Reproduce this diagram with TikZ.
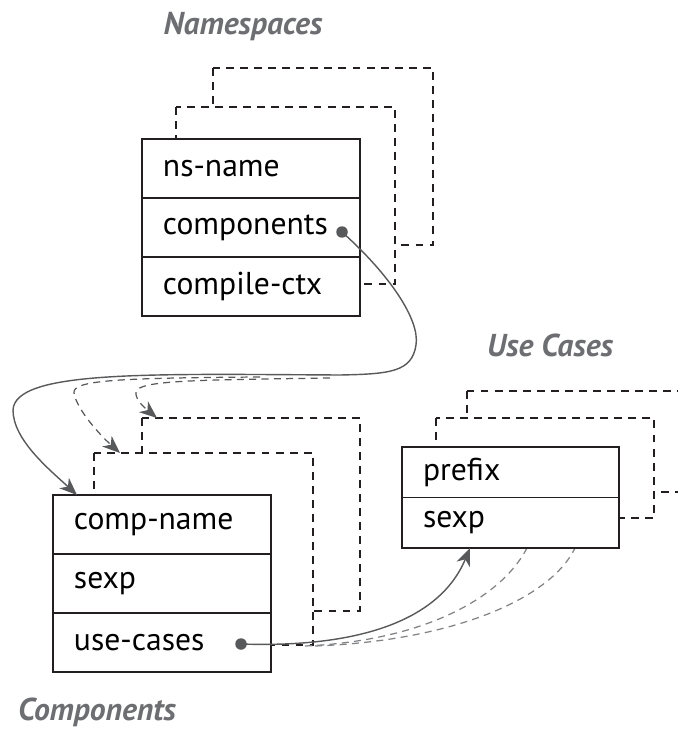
\documentclass[tikz,border=0pt]{standalone}
\usepackage{fontspec}
\setmainfont{PT Sans}
\usepackage{xcolor}
\usepackage{tikz}
\usetikzlibrary{positioning,calc,arrows.meta}

\definecolor{boxline}{HTML}{231F20}
\definecolor{linkgray}{HTML}{58595B}
\definecolor{ghostgray}{HTML}{808285}
\definecolor{titlegray}{HTML}{6D6E71}

\begin{document}
\begin{tikzpicture}[x=0.02cm, y=-0.02cm,
    row/.style={draw=boxline, line width=0.8pt, text width=3.52cm, inner xsep=0.42cm, inner ysep=0pt, outer sep=0pt, minimum height=1.18cm, align=left, anchor=north west, font=\fontsize{18}{20}\selectfont},
    ucrow/.style={row, text width=3.5cm, minimum height=1.01cm},
    ghost/.style={draw=boxline, line width=0.7pt, fill=white, dash pattern=on 4.5pt off 3.5pt},
    title/.style={text=titlegray, font=\fontsize{18}{20}\selectfont\bfseries\itshape},
    dot/.style={circle, fill=linkgray, inner sep=0pt, minimum size=0.23cm},
    link/.style={draw=linkgray, line width=0.8pt, -{Stealth[length=10pt, width=8pt, inset=3pt]}},
    ghostlink/.style={draw=ghostgray, line width=0.7pt, dash pattern=on 4pt off 3pt}
  ]
    \useasboundingbox (0,0) rectangle (678,733);

    % Titles
    \node[title] (nstitle) at (243,27) {Namespaces};
    \node[title] (uctitle) at (550,345) {Use Cases};
    \node[title] (comptitle) at (97,712) {Components};

    % Namespaces
    \draw[ghost] (213,68) rectangle (433,245);
    \draw[ghost] (176,107) rectangle (395,284);
    \fill[white] (142,139) rectangle (360,316);
    \node[row] (ns1) at (142,139) {ns-name};
    \node[row, anchor=north] (ns2) at (ns1.south) {components};
    \node[row, anchor=north] (ns3) at (ns2.south) {compile-ctx};
    \node[dot] (nsdot) at (342,232) {};

    % Components
    \draw[ghost] (142,418) rectangle (360,611);
    \draw[ghost] (94,453) rectangle (313,645);
    \fill[white] (53,495) rectangle (272,672);
    \node[row] (comp1) at (53,495) {comp-name};
    \node[row, anchor=north] (comp2) at (comp1.south) {sexp};
    \node[row, anchor=north] (comp3) at (comp2.south) {use-cases};
    \node[dot] (compdot) at (241,644) {};

    % namespace -> components
    \coordinate (forka) at (260,377);
    \coordinate (forkb) at (330,378);
    \draw[link] (nsdot.center) .. controls (390,275) and (420,320) .. (416,345)
      .. controls (412,372) and (390,374) .. (340,375)
      .. controls (150,374) and (15,370) .. (13,410)
      .. controls (13,440) and (50,470) .. ([xshift=0.48cm]comp1.north west);
    \draw[ghostlink, -{Stealth[length=10pt, width=8pt, inset=3pt]}, linkgray] (forka) .. controls (120,378) and (72,380) .. (74,393)
      .. controls (77,410) and (100,435) .. ([xshift=0.52cm]94,453);
    \draw[ghostlink, -{Stealth[length=10pt, width=8pt, inset=3pt]}, linkgray] (forkb) .. controls (200,380) and (138,380) .. (136,392)
      .. controls (135,400) and (145,408) .. ([xshift=0.3cm]142,418);

    % Use Cases
    \coordinate (forkc) at (305,646);
    \coordinate (forkd) at (315,646);
    \draw[ghost] (467,391) rectangle (700,492);
    \draw[ghost] (436,418) rectangle (654,518);
    \draw[ghostlink] (forkc) .. controls (420,641) and (500,600) .. (527,548);
    \draw[ghostlink] (forkd) .. controls (450,641) and (550,600) .. (575,548);
    \fill[white] (402,447) rectangle (619,548);
    \node[ucrow] (uc1) at (402,447) {prefix};
    \node[ucrow, anchor=north] (uc2) at (uc1.south) {sexp};

    % components -> use cases
    \draw[link] (compdot.center) .. controls (360,648) and (440,620) .. ([xshift=1.36cm]uc2.south west);
\end{tikzpicture}
\end{document}
